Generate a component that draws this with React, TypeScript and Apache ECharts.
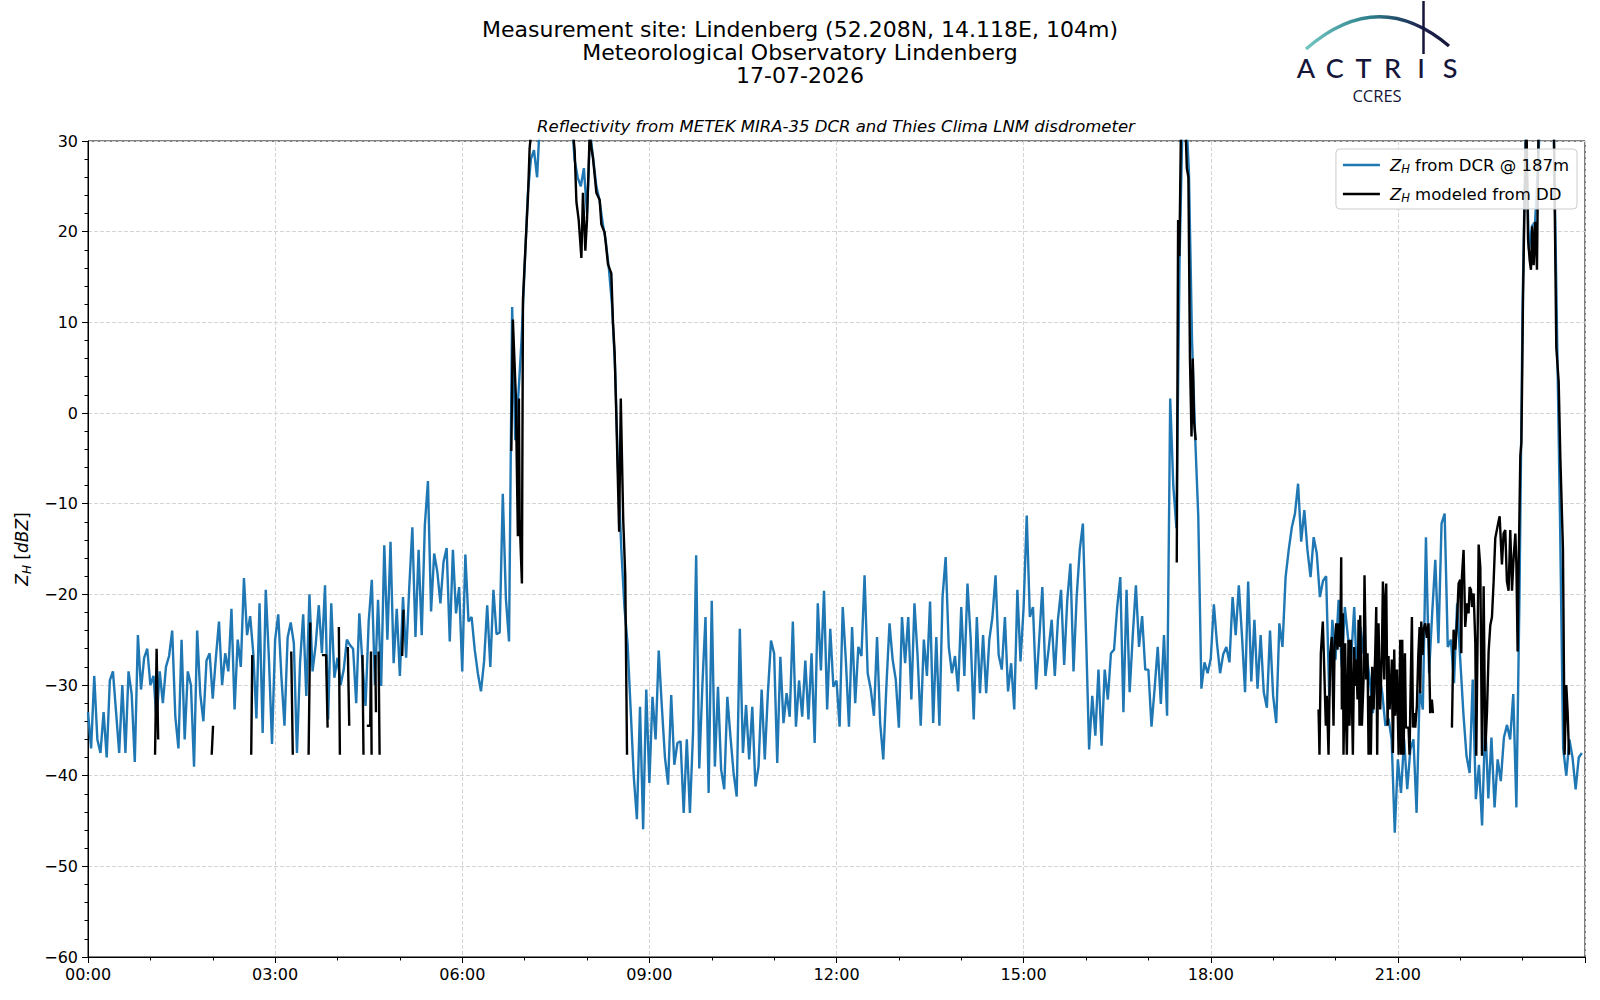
import React, { useEffect, useRef } from "react";
import * as echarts from "echarts";

// ---- sampling grid of the DCR series (minutes) ----
const STEP_MIN = 3;

// Z_H from DCR @ 187m, one value every 3 minutes, 00:00 - 05:57
const dcrNight = [
  -33, -37, -29, -36, -37.5, -33, -38, -29.5, -28.5, -33, -37.5, -30, -37.5, -28.5, -31, -38.5, -24.5, -30.5, -27, -26,
  -30, -29, -34, -28.5, -32, -28, -26.8, -24, -33.5, -37, -25, -36, -28.5, -30, -39, -24, -31, -34, -27.3, -26.5,
  -31.5, -27, -23, -30, -26.5, -28.5, -21.6, -32.7, -25, -28, -18.2, -24.5, -22.4, -26.5, -33.7, -21, -35.3, -19.5, -27, -36.5,
  -25, -22.2, -29, -34.5, -24.8, -23.1, -25.4, -37.5, -27.5, -22.2, -31.2, -20, -28.5, -25.6, -21.2, -26.5, -19, -33.8, -21, -29.2,
  -27, -30, -28.3, -25, -25.6, -26, -32, -22.1, -27.6, -32.3, -23, -18.4, -30, -20.6, -30.1, -14.6, -25, -14.2, -27.6, -21.6,
  -29, -20.3, -27, -19.3, -12.6, -24.7, -15.1, -24.5, -12.4, -7.5, -21.9, -15.5, -17.5, -21, -16.4, -14.9, -25.2, -15.1, -22.1, -19.2,
];
// 06:00 - 11:57
const dcrMorning = [
  -28.5, -15.6, -23, -22.5, -26.1, -28.7, -30.7, -27.4, -21.2, -28, -19.5, -24.4, -24.2, -8.9, -20.5, -25.2, 11.7, -3, 2, 8,
  16, 24, 28, 29, 26, 33, 35, 36, 35, 36, 34, 35, 36, 35, 34, 33, 28, 26, 25, 27,
  22, 31, 28, 25, 23.5, 21, 19, 16, 12, 5, -6.7, -15, -21.4, -25.4, -32.7, -40.1, -44.8, -32.4, -45.9, -30.5,
  -40.8, -31.3, -36, -26.2, -32.4, -38, -41, -31.1, -38.8, -36.4, -36.2, -44.1, -36, -44.1, -35.3, -15.7, -39.2, -30, -22.5, -41.9,
  -20.7, -39, -30.2, -39.3, -41.5, -31.3, -35.7, -39.7, -42.3, -23.8, -37.5, -32.2, -38.2, -32.4, -41.2, -39, -30.5, -38.2, -30.9, -25.1,
  -26.5, -38.6, -26.9, -34.2, -30.9, -33.5, -23, -34.6, -29.5, -33.5, -27.3, -33.8, -26.5, -36.4, -21, -28.4, -19.6, -32.7, -23.8, -30.2,
];
// 12:00 - 17:57
const dcrAfternoon = [
  -29.5, -34.6, -21.4, -27.3, -34.6, -23.6, -32, -25.8, -26.8, -17.9, -28.7, -30.5, -33.4, -24.7, -34.2, -38.2, -30.1, -23.2, -27.2, -29.4,
  -34.7, -22.5, -27.6, -22.5, -31.6, -21, -26.8, -34.5, -25, -29, -20.8, -34.2, -24.7, -34.5, -20.3, -15.9, -25.8, -28.7, -26.8, -30.7,
  -21.4, -29, -18.8, -24.7, -33.8, -22.5, -30.9, -24.5, -30.9, -25, -22.5, -17.9, -26.7, -28.3, -22.5, -30.7, -27.6, -32.7, -19.5, -27.4,
  -21.4, -11.3, -22.5, -21.4, -30.5, -25, -19.2, -29, -26.1, -22.8, -29, -22.8, -19.5, -27.8, -20.6, -16.6, -28.5, -20.3, -15.1, -12.2,
  -24.3, -37.1, -31.2, -35.6, -28.3, -36.7, -28.3, -31.6, -26.5, -26.1, -21.4, -18.1, -33, -19.5, -30.8, -24.5, -19, -25.8, -22.4, -28.3,
  -28.3, -34.6, -30.4, -25.8, -32.1, -24.5, -33.4, 1.6, -8.1, -12.7, 17, 33, 34, 26.5, 8, -2.6, -11.4, -30.4, -27.5, -28.7,
];
// 18:00 - 23:57
const dcrEvening = [
  -27.1, -21.1, -25.4, -28.7, -26.6, -25.8, -27.5, -20.3, -24.5, -19, -24.5, -30.8, -18.6, -29.6, -22.8, -30.4, -24.5, -30.8, -32.5, -24,
  -31.2, -34.2, -23.2, -25.8, -18.1, -15.1, -12.6, -11.1, -7.8, -14.2, -10.7, -15.1, -18.1, -13.7, -15.5, -20.3, -18.5, -18, -31.2, -22.8,
  -27.2, -20.6, -28, -21.4, -24.7, -27.2, -21.4, -30.1, -23.6, -26.5, -26.8, -29.4, -33.1, -27, -28.6, -30.9, -34.5, -33.7, -36, -46.3,
  -38.2, -41.9, -36, -41.5, -37.1, -36, -44.1, -30.5, -32.7, -13.7, -28.7, -22.1, -16.2, -25.4, -12.2, -11.1, -25.8, -25, -29.8, -21,
  -27.2, -33.1, -37.8, -39.7, -29.4, -42.6, -38.8, -45.5, -34, -42.5, -35.8, -43.5, -38.2, -40.6, -35.8, -34.4, -36, -31, -43.5, -20,
  12, 32, 18, 20.6, 21.1, 28, 35, 36, 36, 34, 31, 9.6, -12, -37, -40, -36, -38, -41.5, -38, -37.5,
];

// Z_H modeled from disdrometer: segments of [minute, dBZ]
const ddEarly: number[][][] = [
  [[64.5, -37.7], [66, -26], [67.5, -36]],
  [[119, -37.7], [120.3, -34.5]],
  [[157, -37.7], [158, -26.7]],
  [[195.5, -26.3], [197, -37.7]],
  [[212.2, -37.7], [213.8, -23.1]],
  [[225, -26.7], [229, -26.7], [230.5, -34.7]],
  [[241.3, -23.6], [242.3, -37.7]],
  [[249.9, -25.8], [251.3, -34.5]],
  [[264, -26.7], [265, -37.7]],
  [[268.2, -34.5], [271.5, -34.5], [272.2, -26.3], [272.8, -37.7]],
  [[276.3, -26.7], [277, -33]],
  [[279.5, -26.3], [280.5, -37.7]],
  [[302.2, -26.8], [303.5, -21.7]],
];
const ddRain = [
  [407.2, -4.2], [408.7, 10.3], [411.5, 2], [413.5, -13.6], [414.5, 1.6], [415.2, -11.6], [417.4, -18.8], [418.4, 12.5],
  [420, 16.4], [423.2, 23.8], [424.8, 29.2], [428, 33], [435, 35], [445, 36], [455, 35], [463, 34], [466.5, 31],
  [468.1, 29], [469.8, 23.3], [472, 21.3], [474.6, 17.1], [476.1, 24.3], [478.4, 17.9], [480, 21.3], [482.6, 31],
  [484.2, 29.2], [485.7, 28.2], [489, 24.3], [492.2, 23.5], [493.8, 20.8], [497, 19.9], [500.2, 16.4], [503.4, 15.4],
  [505, 10], [506.6, 6.6], [508.3, -0.8], [510.9, -13.1], [512.5, 1.6], [514.8, -11.6], [516.8, -18], [518.5, -37.7],
];
const ddEvening = [
  [1047.3, -16.5], [1048.6, 21.3], [1049.8, 17.3], [1051.5, 33], [1055, 34], [1057, 27], [1058.5, 26], [1060, 5.9],
  [1061.5, -2.6], [1062.7, 6], [1064, -1], [1065.5, -3],
];
const ddNightA = [
  [1183.7, -32.7], [1184.6, -37.7], [1185.9, -26.5], [1187.8, -23], [1189.1, -28], [1190.7, -34.5], [1191.7, -31.2],
  [1193.3, -37.7], [1194.9, -26.5], [1196.5, -24.7], [1198.1, -34.5], [1199.1, -25.8], [1200.7, -23.2], [1201.9, -26.1],
  [1203.2, -23.2], [1204.5, -25.8], [1205.5, -15.9], [1206.1, -32.7], [1207.1, -22.1], [1207.7, -37.7], [1209.3, -25.4],
  [1210.3, -34.5], [1210.9, -37.7], [1212.5, -25], [1213.5, -34.5], [1214.8, -25], [1215.7, -30.9], [1216.7, -37.7],
  [1218, -25.8], [1218.9, -30.1], [1219.9, -27.2], [1221.2, -31.6], [1222.2, -22.8], [1223.1, -34.5], [1223.8, -22.3],
  [1225.4, -34.5], [1227, -29.4], [1227.9, -17.9], [1229.5, -29.4], [1230.8, -26.5], [1231.8, -37.7], [1233.4, -31.2],
  [1234, -37.7], [1235.3, -28], [1236.6, -32.7], [1238.2, -26.5], [1239.2, -21.4], [1240.1, -37.7], [1241.4, -23.2],
  [1243, -32.7], [1244.6, -26.8], [1245.6, -18.6], [1246.9, -29.4], [1247.8, -20.6], [1248.8, -18.8], [1250.1, -34.5],
  [1251, -26.8], [1252, -32.7], [1253.3, -30.1], [1254.2, -27.2], [1255.2, -37.5], [1256.5, -26.1], [1257.4, -33.4],
  [1259.1, -28.3], [1260.7, -37.7], [1262.3, -25], [1263.2, -37.7], [1264.2, -25], [1265.5, -37.7], [1266.8, -26.5],
  [1267.7, -34.7], [1270.3, -34.7], [1271.2, -37.7], [1272.5, -28.8], [1273.5, -22.5], [1274.5, -34.7], [1275.7, -33.1],
  [1276.7, -34.7], [1278.3, -32.3], [1279.6, -26.8], [1280.9, -23.6], [1281.5, -30.9], [1282.5, -23], [1283.8, -26.7],
  [1284.7, -23.9], [1286.3, -23.2], [1287.9, -24.8], [1289.5, -23.2], [1291.1, -33.1], [1292.7, -31.6], [1293.7, -33.1],
];
const ddNightB = [
  [1312, -34.7], [1313.6, -23.9], [1315.2, -26.1], [1316.8, -23.2], [1318.4, -18.8], [1320, -18.4], [1321, -26.5],
  [1321.6, -18.1], [1323.2, -15.1], [1324.8, -23.6], [1326.4, -21], [1328, -22.1], [1329, -19.2], [1330.3, -19.5],
  [1331.3, -21.4], [1332.9, -19.9], [1334.5, -25.4], [1335.4, -37.8], [1337.7, -14.5], [1339.3, -17], [1340.9, -37.8],
  [1342.5, -19.1], [1344.1, -37.3], [1345.7, -33], [1347.3, -26.3], [1348.9, -23.4], [1350.5, -22.5], [1352.1, -18.6],
  [1353.7, -13.8], [1356.9, -11.9], [1357.9, -11.4], [1360.1, -16.7], [1361.7, -13.3], [1363.3, -12.9], [1364.9, -18.6],
  [1366.5, -19.6], [1368.1, -12.9], [1369.8, -19.6], [1371.4, -15.8], [1373, -13.3], [1374, -16.7], [1375.2, -26.3],
  [1376.2, -16.7], [1377.8, -4.7], [1378.8, -3.3], [1379.4, 2.4], [1380.3, 12], [1381.6, 21.6], [1382.6, 26.4],
  [1383.6, 33], [1385.2, 19.2], [1386.8, 16.8], [1388, 15.8], [1389.3, 20.6], [1390.6, 16.3], [1392.2, 21.1],
  [1393.8, 15.8], [1395.4, 33], [1400.2, 36], [1405.1, 36], [1409.9, 33], [1412.4, 7.2], [1414.7, 3.4], [1416.3, -5],
  [1418.8, -15], [1420.4, -37.7], [1422, -30], [1423.3, -33], [1424.6, -37.7],
];

// ---- axes ----
const X_MIN = 0;
const X_MAX = 1440;
const X_STEP = 180;
const Y_MIN = -60;
const Y_MAX = 30;
const Y_STEP = 10;

const titleLines = [
  "Measurement site: Lindenberg (52.208N, 14.118E, 104m)",
  "Meteorological Observatory Lindenberg",
  "17-07-2026",
];
const subTitle = "Reflectivity from METEK MIRA-35 DCR and Thies Clima LNM disdrometer";
const seriesNames = ["Z_H from DCR @ 187m", "Z_H modeled from DD"];
const legendLabels = ["{i|Z}{s|H}{n| from DCR @ 187m}", "{i|Z}{s|H}{n| modeled from DD}"];

const FONT = "'DejaVu Sans', sans-serif";
const BLUE = "#1f77b4";
const NAVY = "#16163a";

function fmtTime(m: number) {
  const h = Math.floor(m / 60);
  const mm = Math.round(m % 60);
  return `${String(h).padStart(2, "0")}:${String(mm).padStart(2, "0")}`;
}

export default function App() {
  const ref = useRef<HTMLDivElement>(null);

  useEffect(() => {
    if (!ref.current) return;
    const chart = echarts.init(ref.current, undefined, { renderer: "svg" });

    const dcrValues = [...dcrNight, ...dcrMorning, ...dcrAfternoon, ...dcrEvening];
    const dcrData = dcrValues.map((v, i) => [i * STEP_MIN, v]);

    const segs: number[][][] = [...ddEarly, ddRain, ddEvening, ddNightA, ddNightB];
    const ddData: any[] = [];
    segs.forEach((seg) => {
      seg.forEach((p) => ddData.push([p[0], p[1]]));
      ddData.push([seg[seg.length - 1][0] + 0.05, "-"]);
    });

    const LFS = 16.5;
    const richBase = {
      i: { fontStyle: "italic", fontSize: LFS, fontFamily: FONT, color: "#000", lineHeight: 20, verticalAlign: "middle" },
      s: { fontStyle: "italic", fontSize: 11.5, fontFamily: FONT, color: "#000", lineHeight: 20, verticalAlign: "bottom", padding: [9, 0, 0, 0] },
      n: { fontSize: LFS, fontFamily: FONT, color: "#000", lineHeight: 20, verticalAlign: "middle" },
    };

    const letters = "ACTRIS".split("");

    const option: any = {
      animation: false,
      backgroundColor: "#fff",
      textStyle: { fontFamily: FONT },
      grid: { left: 88, right: 15, top: 141, bottom: 43, show: true, borderColor: "#000", borderWidth: 1, backgroundColor: "transparent" },
      legend: {
        right: 23,
        top: 149,
        orient: "vertical",
        icon: "rect",
        itemWidth: 37,
        itemHeight: 2.5,
        itemGap: 8,
        padding: [5, 8, 5, 7],
        backgroundColor: "rgba(255,255,255,0.85)",
        borderColor: "#cccccc",
        borderWidth: 1,
        borderRadius: 4,
        data: seriesNames,
        formatter: (name: string) => legendLabels[seriesNames.indexOf(name)],
        textStyle: { fontSize: LFS, color: "#000", padding: [0, 0, 0, 5], rich: richBase },
      },
      xAxis: {
        type: "value",
        min: X_MIN,
        max: X_MAX,
        interval: X_STEP,
        axisLine: { onZero: false, lineStyle: { color: "#000", width: 1 } },
        axisTick: { show: true, length: 6, lineStyle: { color: "#000" } },
        minorTick: { show: true, splitNumber: 3, length: 3.5, lineStyle: { color: "#000" } },
        axisLabel: { formatter: (v: number) => fmtTime(v), fontSize: 16, color: "#000", margin: 9, fontFamily: FONT, showMaxLabel: false },
        splitLine: { show: true, lineStyle: { type: [4, 2], color: "#d4d4d4", width: 1 } },
      },
      yAxis: {
        type: "value",
        min: Y_MIN,
        max: Y_MAX,
        interval: Y_STEP,
        axisLine: { show: true, onZero: false, lineStyle: { color: "#000", width: 1 } },
        axisTick: { show: true, length: 6, lineStyle: { color: "#000" } },
        minorTick: { show: true, splitNumber: 5, length: 3.5, lineStyle: { color: "#000" } },
        axisLabel: { formatter: (v: number) => String(v).replace("-", "\u2212"), fontSize: 16, color: "#000", margin: 10, fontFamily: FONT },
        splitLine: { show: true, lineStyle: { type: [4, 2], color: "#d4d4d4", width: 1 } },
        name: "{i|Z}{s|H}{n| [}{i|dBZ}{n|]}",
        nameLocation: "middle",
        nameGap: 54,
        nameRotate: 90,
        nameTextStyle: { fontSize: 17, color: "#000", rich: {
          i: { fontStyle: "italic", fontSize: 17, fontFamily: FONT, color: "#000", lineHeight: 22, verticalAlign: "middle" },
          s: { fontStyle: "italic", fontSize: 12, fontFamily: FONT, color: "#000", lineHeight: 22, verticalAlign: "bottom", padding: [9, 0, 0, 0] },
          n: { fontSize: 17, fontFamily: FONT, color: "#000", lineHeight: 22, verticalAlign: "middle" },
        } },
      },
      series: [
        {
          name: seriesNames[0],
          type: "line",
          data: dcrData,
          showSymbol: false,
          symbol: "none",
          lineStyle: { color: BLUE, width: 2.4 },
          itemStyle: { color: BLUE },
          clip: true,
          z: 2,
        },
        {
          name: seriesNames[1],
          type: "line",
          data: ddData,
          showSymbol: false,
          symbol: "none",
          connectNulls: false,
          lineStyle: { color: "#000", width: 2.4 },
          itemStyle: { color: "#000" },
          clip: true,
          z: 3,
        },
      ],
      graphic: [
        ...titleLines.map((t, k) => ({
          type: "text",
          x: 800,
          y: 29 + k * 23,
          style: { text: t, font: `22px ${FONT}`, fill: "#000", textAlign: "center", textVerticalAlign: "middle" },
        })),
        {
          type: "text",
          x: 836,
          y: 126,
          style: { text: subTitle, font: `italic 16.5px ${FONT}`, fill: "#000", textAlign: "center", textVerticalAlign: "middle" },
        },
        {
          type: "bezierCurve",
          shape: { x1: 1306, y1: 49, x2: 1449, y2: 46, cpx1: 1378, cpy1: -14 },
          style: {
            fill: "none",
            lineWidth: 3.2,
            stroke: new echarts.graphic.LinearGradient(0, 0, 1, 0, [
              { offset: 0, color: "#72c6c0" },
              { offset: 0.45, color: "#2d7f8c" },
              { offset: 0.8, color: "#1c2450" },
              { offset: 1, color: NAVY },
            ]),
          },
        },
        {
          type: "line",
          shape: { x1: 1423.5, y1: 1, x2: 1423.5, y2: 54 },
          style: { stroke: NAVY, lineWidth: 2.5 },
        },
        ...letters.map((c, k) => ({
          type: "text",
          x: 1306 + k * 28.8,
          y: 67,
          style: { text: c, font: `500 27px Lato, 'Open Sans', sans-serif`, fill: NAVY, textAlign: "center", textVerticalAlign: "middle" },
        })),
        {
          type: "text",
          x: 1377,
          y: 95,
          style: { text: "CCRES", font: `16.5px 'Open Sans', sans-serif`, fill: NAVY, textAlign: "center", textVerticalAlign: "middle" },
        },
      ],
    };

    chart.setOption(option);
    return () => chart.dispose();
  }, []);

  return (
    <div
      ref={ref}
      style={{ position: "absolute", left: 0, top: 0, width: 1600, height: 1000, background: "#fff" }}
    />
  );
}
